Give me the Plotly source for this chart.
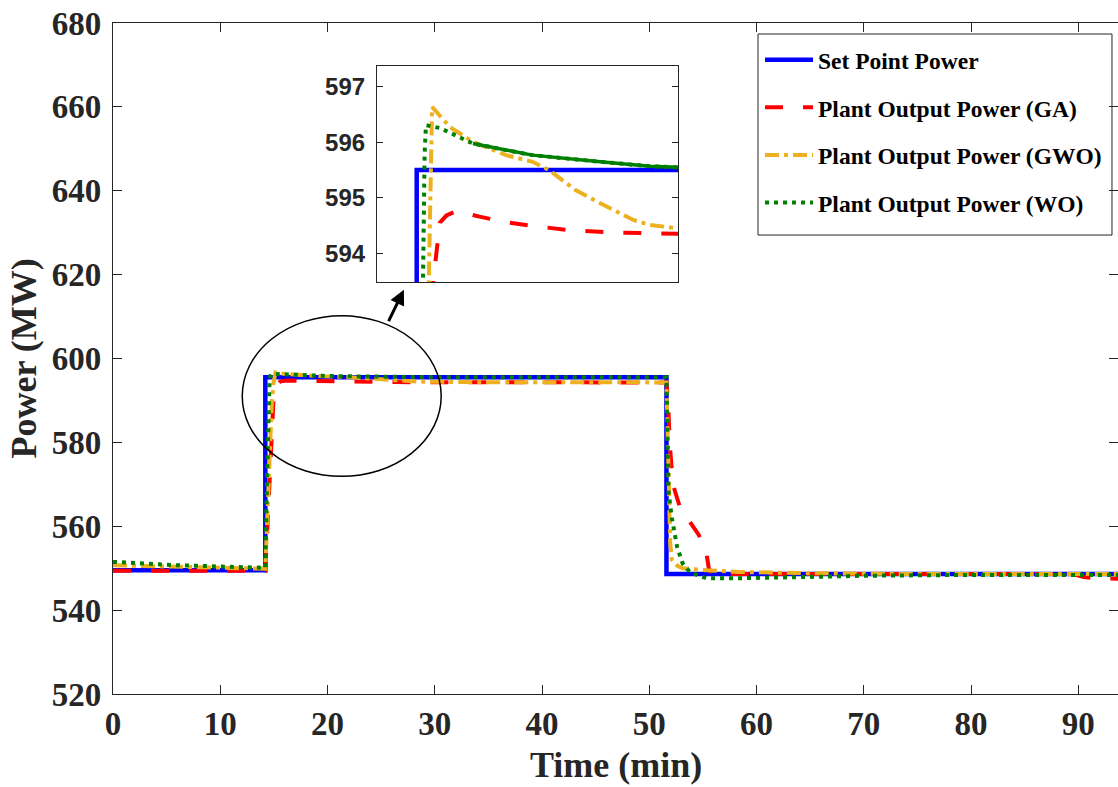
import plotly.graph_objects as go

# ---------------- data ----------------
t_set = [0, 14.2, 14.2, 51.6, 51.6, 93.7]
p_set = [549.5, 549.5, 595.5, 595.5, 548.6, 548.6]

t_ga = [0, 5, 10, 14.2, 14.4, 14.6, 14.8, 14.95, 15.2, 15.6, 16.0, 16.6, 18, 19.6,
        21.3, 23.3, 26.3, 30, 40, 51.6, 51.75, 51.9, 52.2, 52.8, 53.8, 54.6, 55.3,
        55.55, 55.8, 57, 70, 89.5, 90.5, 91.5, 92.3, 93.7]
p_ga = [549.4, 549.3, 549.4, 549.4, 560, 572, 584, 589.5, 593.5, 594.55, 594.68,
        594.76, 594.66, 594.56, 594.49, 594.42, 594.37, 594.32, 594.3, 594.3, 590,
        580, 570, 565, 561, 558, 554, 550, 548.7, 548.6, 548.6, 548.6, 547.9, 547.6,
        547.6, 547.5]

t_gwo = [0, 4, 8, 12, 14.2, 14.4, 14.6, 14.8, 14.95, 15.13, 16.2, 17.6, 19.6, 21.2,
         22.2, 23.8, 25.3, 27.3, 28.3, 30, 35, 51.6, 51.7, 51.8, 51.95, 52.1, 52.6,
         53.1, 55.4, 58.4, 65, 75, 93.7]
p_gwo = [550.7, 550.4, 550.2, 550.0, 549.9, 565, 580, 589, 593.8, 596.64, 596.28,
         596.01, 595.77, 595.65, 595.5, 595.14, 594.9, 594.6, 594.51, 594.45, 594.35,
         594.3, 585, 570, 556, 552, 550.6, 550.0, 549.5, 549.1, 548.8, 548.6, 548.6]

t_wo = [0, 3, 6, 10, 13.7, 14.2, 14.35, 14.5, 14.58, 14.68, 14.76, 15.6, 17.6, 19.6,
        21.2, 25.3, 28.3, 30, 40, 51.6, 51.7, 51.8, 52.1, 52.6, 53.1, 53.8, 55.3,
        58.4, 64.7, 70, 80, 93.7]
p_wo = [551.5, 551.0, 550.7, 550.4, 550.3, 550.1, 570, 590, 593.5, 595.8, 596.31,
        596.26, 595.98, 595.86, 595.77, 595.65, 595.57, 595.55, 595.5, 595.5, 580,
        568, 562, 555, 551.2, 549, 547.6, 547.6, 547.9, 548.2, 548.4, 548.4]

names = ["Set Point Power", "Plant Output Power (GA)",
         "Plant Output Power (GWO)", "Plant Output Power (WO)"]

x_ticks = [0, 10, 20, 30, 40, 50, 60, 70, 80, 90]
y_ticks = [520, 540, 560, 580, 600, 620, 640, 660, 680]
inset_y_ticks = [594, 595, 596, 597]

# ---------------- styles ----------------
styles = [
    dict(color="#0000FF", width=4.5, dash="solid"),
    dict(color="#FF0000", width=4, dash="18px,20px"),
    dict(color="#EDB120", width=4, dash="14px,5px,4px,5px"),
    dict(color="#008000", width=4, dash="4px,5px"),
]
series = [(t_set, p_set), (t_ga, p_ga), (t_gwo, p_gwo), (t_wo, p_wo)]

fig = go.Figure()
for i, ((tx, py), nm, st) in enumerate(zip(series, names, styles)):
    fig.add_trace(go.Scatter(x=tx, y=py, mode="lines", name=nm, line=st,
                             legendgroup=f"g{i}", xaxis="x", yaxis="y"))
for i, ((tx, py), nm, st) in enumerate(zip(series, names, styles)):
    fig.add_trace(go.Scatter(x=tx, y=py, mode="lines", name=nm, line=st,
                             showlegend=False, xaxis="x2", yaxis="y2"))
# in the zoomed view the densely sampled dotted WO curve looks solid once it decays
k = t_wo.index(17.6)
fig.add_trace(go.Scatter(x=t_wo[k:], y=p_wo[k:], mode="lines", showlegend=False,
                         line=dict(color="#008000", width=3.5), xaxis="x2", yaxis="y2"))

axcol = "#262626"
serif = "Liberation Serif"
sans = "Liberation Sans"

fig.update_layout(
    width=1118, height=787,
    margin=dict(l=113, r=0, t=23, b=93, autoexpand=False),
    paper_bgcolor="white", plot_bgcolor="white",
    xaxis=dict(domain=[0, 1], range=[0, 93.7], tickvals=x_ticks,
               ticks="inside", ticklen=9, tickcolor=axcol, mirror="ticks",
               showline=True, linecolor=axcol, linewidth=1.2, showgrid=False,
               zeroline=False,
               tickfont=dict(family=serif, size=33, color=axcol, weight="bold")),
    yaxis=dict(domain=[0, 1], range=[520, 680], tickvals=y_ticks,
               ticks="inside", ticklen=9, tickcolor=axcol, mirror="ticks",
               showline=True, linecolor=axcol, linewidth=1.2, showgrid=False,
               zeroline=False, ticklabelstandoff=4,
               tickfont=dict(family=serif, size=33, color=axcol, weight="bold")),
    xaxis2=dict(domain=[0.2627, 0.5622], range=[11.8, 30], anchor="y2",
                showticklabels=False, ticks="", showline=True, mirror=True,
                linecolor=axcol, linewidth=1.2, showgrid=False, zeroline=False),
    yaxis2=dict(domain=[0.614, 0.936], range=[593.48, 597.38], anchor="x2",
                tickvals=inset_y_ticks, ticks="inside", ticklen=6, tickcolor=axcol,
                mirror="ticks", showline=True, linecolor=axcol, linewidth=1.2,
                showgrid=False, zeroline=False, ticklabelstandoff=6,
                tickfont=dict(family=sans, size=24, color=axcol, weight="bold")),
    legend=dict(x=0.6438, y=0.9776, xanchor="left", yanchor="top",
                bgcolor="rgba(0,0,0,0)", borderwidth=0,
                font=dict(family=serif, size=23.5, color="black", weight="bold"),
                tracegroupgap=14, itemwidth=48),
    showlegend=True,
)

# legend frame
fig.add_shape(type="rect", xref="paper", yref="paper", x0=0.6418, x1=0.994,
              y0=0.684, y1=0.9836, line=dict(color=axcol, width=1),
              fillcolor="white", layer="below")

# ellipse highlighting the zoomed region
fig.add_shape(type="circle", xref="x", yref="y", x0=12.05, x1=30.6, y0=571.9,
              y1=610.2, line=dict(color="black", width=1.5), layer="above")

# arrow pointing to the inset
fig.add_annotation(x=27.12, y=616.4, xref="x", yref="y", ax=-16, ay=33,
                   axref="pixel", ayref="pixel", showarrow=True, arrowhead=2,
                   arrowsize=1, arrowwidth=3, arrowcolor="black", text="")

# axis titles
fig.add_annotation(text="Time (min)", xref="paper", yref="paper", x=0.5, y=0,
                   yshift=-93, yanchor="bottom", showarrow=False,
                   font=dict(family=serif, size=36, color=axcol, weight="bold"))
fig.add_annotation(text="Power (MW)", xref="paper", yref="paper", x=0, y=0.5,
                   xshift=-68, xanchor="right", showarrow=False, textangle=-90,
                   font=dict(family=serif, size=36, color=axcol, weight="bold"))

fig.write_html("out.html", config={"displayModeBar": False},
               post_script="document.body.style.margin='0';")
